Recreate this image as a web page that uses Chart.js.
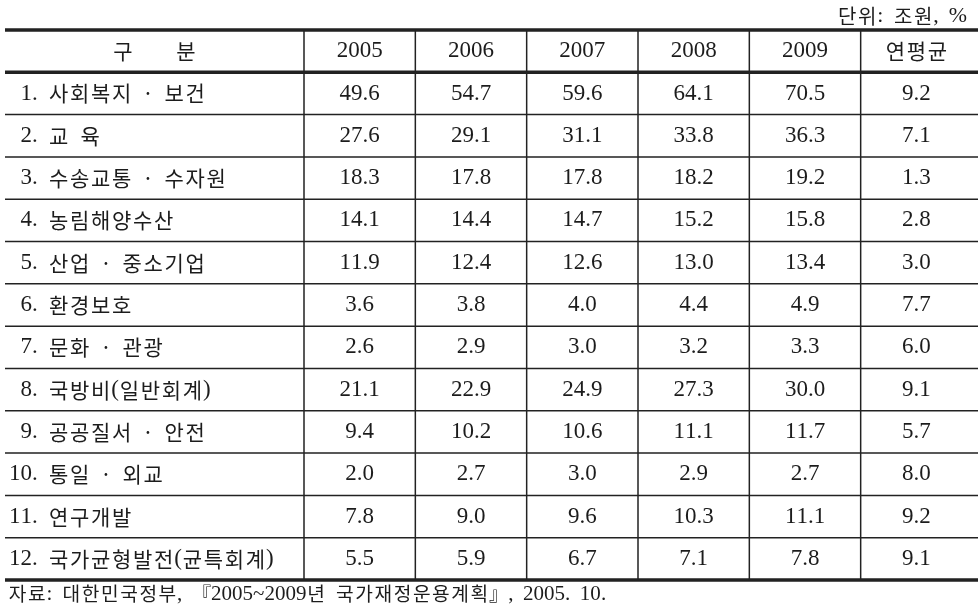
<!DOCTYPE html>
<html lang="ko">
<head>
<meta charset="UTF-8">
<title>분야별 재원배분 계획</title>
<script src="https://cdn.jsdelivr.net/npm/chart.js"></script>
<style>
  html, body { margin: 0; padding: 0; background: #fff; }
  #wrap { position: relative; width: 978px; height: 615px; }
</style>
</head>
<body>
<div id="wrap"><canvas id="chart"></canvas></div>
<script>
const unitText = '단위: 조원, %';
const headerLabel = '구    분';
const columns = ['2005', '2006', '2007', '2008', '2009', '연평균'];
const items = [
  '1. 사회복지 · 보건',
  '2. 교 육',
  '3. 수송교통 · 수자원',
  '4. 농림해양수산',
  '5. 산업 · 중소기업',
  '6. 환경보호',
  '7. 문화 · 관광',
  '8. 국방비(일반회계)',
  '9. 공공질서 · 안전',
  '10. 통일 · 외교',
  '11. 연구개발',
  '12. 국가균형발전(균특회계)'
];
const v2005 = [49.6, 27.6, 18.3, 14.1, 11.9, 3.6, 2.6, 21.1, 9.4, 2.0, 7.8, 5.5];
const v2006 = [54.7, 29.1, 17.8, 14.4, 12.4, 3.8, 2.9, 22.9, 10.2, 2.7, 9.0, 5.9];
const v2007 = [59.6, 31.1, 17.8, 14.7, 12.6, 4.0, 3.0, 24.9, 10.6, 3.0, 9.6, 6.7];
const v2008 = [64.1, 33.8, 18.2, 15.2, 13.0, 4.4, 3.2, 27.3, 11.1, 2.9, 10.3, 7.1];
const v2009 = [70.5, 36.3, 19.2, 15.8, 13.4, 4.9, 3.3, 30.0, 11.7, 2.7, 11.1, 7.8];
const annualAvg = [9.2, 7.1, 1.3, 2.8, 3.0, 7.7, 6.0, 9.1, 5.7, 8.0, 9.2, 9.1];
const sourceNote = '자료: 대한민국정부, 『2005~2009년 국가재정운용계획』, 2005. 10.';

const series = [v2005, v2006, v2007, v2008, v2009, annualAvg];
const LATIN = '"Liberation Serif", "DejaVu Serif", serif';
const CJK = '"Noto Sans CJK KR", sans-serif';
const INK = '#1c1c1c';

// every cell is a (column, row) point on two category scales; text is painted at the point
const datasets = columns.map((col, i) => ({
  label: col,
  data: series[i].map((v, j) => ({ x: col, y: items[j], v: v })),
  showLine: false,
  pointRadius: 0,
  pointHoverRadius: 0
}));

// hangul on a full-em grid, half-em spaces, latin glyphs in a slightly larger serif
function glyphRuns(ctx, text, em) {
  const latinFont = (em * 23 / 21) + 'px ' + LATIN;
  const cjkFont = em + 'px ' + CJK;
  return [...text].map(ch => {
    const code = ch.charCodeAt(0);
    if (ch === ' ') return { ch, adv: em / 2 };
    if (code >= 0x1100) return { ch, font: cjkFont, adv: em };
    if (ch === '·') return { ch, font: cjkFont, adv: em / 2 };
    ctx.font = latinFont;
    return { ch, font: latinFont, adv: ctx.measureText(ch).width };
  });
}

function drawText(ctx, text, x, y, em, align) {
  const runs = glyphRuns(ctx, text, em);
  const total = runs.reduce((a, r) => a + r.adv, 0);
  let cx = align === 'center' ? x - total / 2 : align === 'right' ? x - total : x;
  ctx.textAlign = 'center';
  runs.forEach(r => {
    if (r.font) {
      ctx.font = r.font;
      ctx.fillText(r.ch, cx + r.adv / 2, y);
    }
    cx += r.adv;
  });
}

const tablePlugin = {
  id: 'tablePlugin',
  afterDraw(chart) {
    const ctx = chart.ctx;
    const xs = chart.scales.x, ys = chart.scales.y;
    const colW = Math.abs(xs.getPixelForValue(1) - xs.getPixelForValue(0));
    const rowH = Math.abs(ys.getPixelForValue(1) - ys.getPixelForValue(0));
    const left = 5, right = chart.width;
    const bodyTop = ys.getPixelForValue(0) - rowH / 2;
    const headTop = bodyTop - rowH;
    const bodyBottom = ys.getPixelForValue(items.length - 1) + rowH / 2;
    const em = 21;

    ctx.save();
    ctx.strokeStyle = '#222';

    // thin row lines
    ctx.lineWidth = 1.5;
    ctx.beginPath();
    for (let j = 1; j < items.length; j++) {
      const y = ys.getPixelForValue(j) - rowH / 2;
      ctx.moveTo(left, y); ctx.lineTo(right, y);
    }
    // column lines
    for (let i = 0; i < columns.length; i++) {
      const x = xs.getPixelForValue(i) - colW / 2;
      ctx.moveTo(x, headTop); ctx.lineTo(x, bodyBottom);
    }
    ctx.stroke();

    // thick rules
    ctx.lineWidth = 3.5;
    ctx.beginPath();
    [headTop, bodyTop, bodyBottom].forEach(y => { ctx.moveTo(left, y); ctx.lineTo(right, y); });
    ctx.stroke();

    ctx.fillStyle = INK;
    ctx.textBaseline = 'middle';

    // header
    drawText(ctx, headerLabel, (left + xs.left) / 2, headTop + rowH / 2, em, 'center');
    columns.forEach((c, i) => drawText(ctx, c, xs.getPixelForValue(i), headTop + rowH / 2, em, 'center'));

    // row labels
    ctx.font = (em * 23 / 21) + 'px ' + LATIN;
    const digitW = ctx.measureText('0').width;
    items.forEach((lab, j) => {
      const indent = /^\d\./.test(lab) ? digitW : 0;
      drawText(ctx, lab, 9 + indent, ys.getPixelForValue(j), em, 'left');
    });

    // values
    chart.data.datasets.forEach((ds, i) => {
      chart.getDatasetMeta(i).data.forEach((pt, j) => {
        drawText(ctx, ds.data[j].v.toFixed(1), pt.x, pt.y, em, 'center');
      });
    });

    // unit and source
    drawText(ctx, unitText, 967, headTop - 14, 20, 'right');
    drawText(ctx, sourceNote, 8, bodyBottom + 14, 19.2, 'left');
    ctx.restore();
  }
};

new Chart(document.getElementById('chart'), {
  type: 'line',
  data: { datasets: datasets },
  options: {
    responsive: true,
    maintainAspectRatio: false,
    animation: false,
    events: [],
    layout: { padding: { left: 304, right: 6, top: 72.3, bottom: 35 } },
    plugins: { legend: { display: false }, tooltip: { enabled: false } },
    scales: {
      x: { type: 'category', labels: columns, offset: true, display: false },
      y: { type: 'category', labels: items, offset: true, display: false }
    }
  },
  plugins: [tablePlugin]
});
</script>
</body>
</html>
